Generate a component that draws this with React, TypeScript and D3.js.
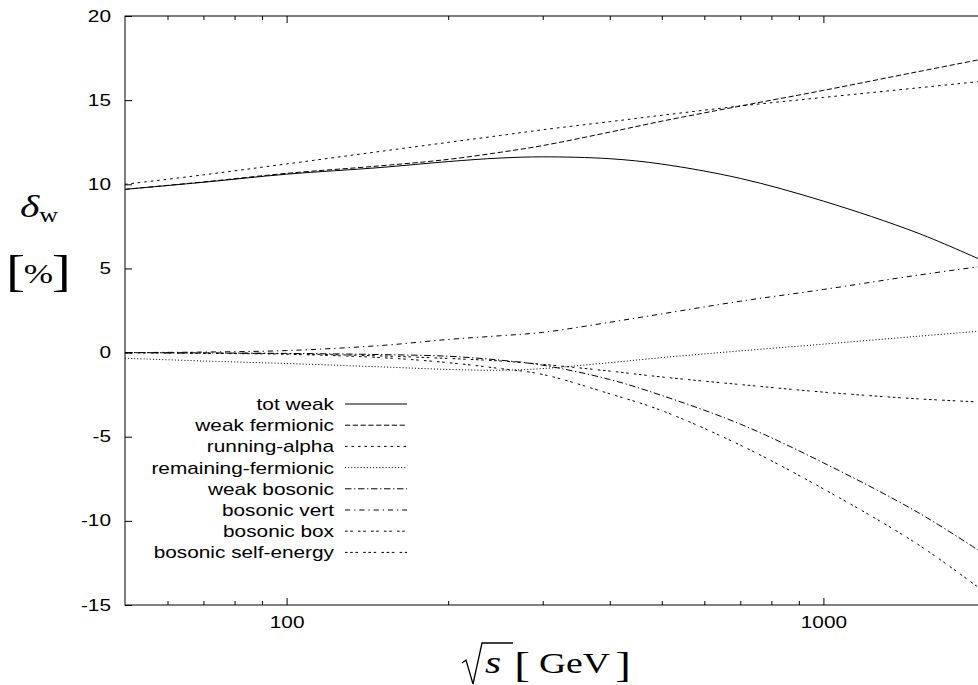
import * as React from "react";
import { useRef, useEffect } from "react";
import * as d3 from "d3";

// sqrt(s) in GeV
const energies = [50, 70, 100, 150, 200, 250, 300, 400, 500, 700, 1000, 1500, 2000];

// corrections in %
const totWeak = [9.7, 10.12, 10.6, 11.0, 11.35, 11.56, 11.63, 11.52, 11.2, 10.35, 9.0, 7.1, 5.4];
const weakFermionic = [9.7, 10.14, 10.65, 11.1, 11.48, 11.9, 12.3, 13.1, 13.75, 14.65, 15.58, 16.69, 17.47];
const runningAlpha = [10.0, 10.56, 11.21, 11.96, 12.49, 12.9, 13.24, 13.72, 14.1, 14.65, 15.16, 15.73, 16.14];
const remainingFermionic = [-0.34, -0.5, -0.65, -0.85, -1.0, -1.05, -0.95, -0.6, -0.3, 0.1, 0.5, 0.97, 1.3];
const weakBosonic = [0.0, -0.02, -0.05, -0.12, -0.22, -0.45, -0.75, -1.6, -2.55, -4.25, -6.55, -9.5, -12.0];
const bosonicVert = [0.0, 0.03, 0.12, 0.42, 0.78, 1.0, 1.2, 1.8, 2.3, 3.05, 3.75, 4.6, 5.15];
const bosonicBox = [-0.02, -0.05, -0.1, -0.3, -0.6, -0.95, -1.3, -2.45, -3.45, -5.5, -8.1, -11.4, -14.25];
const bosonicSelfEnergy = [0.0, -0.03, -0.07, -0.2, -0.35, -0.5, -0.7, -1.1, -1.45, -1.9, -2.35, -2.75, -2.95];

const seriesNames = [
  "tot weak",
  "weak fermionic",
  "running-alpha",
  "remaining-fermionic",
  "weak bosonic",
  "bosonic vert",
  "bosonic box",
  "bosonic self-energy",
];
const seriesValues = [
  totWeak,
  weakFermionic,
  runningAlpha,
  remainingFermionic,
  weakBosonic,
  bosonicVert,
  bosonicBox,
  bosonicSelfEnergy,
];

const yTicks = [-15, -10, -5, 0, 5, 10, 15, 20];
const xMajorTicks = [100, 1000];
const xMinorTicks = [60, 70, 80, 90, 200, 300, 400, 500, 600, 700, 800, 900];

// gnuplot-like dash patterns, in the same order as the series
const k = 1.3;
const dashes = [
  null,
  [4, 2],
  [2, 3],
  [0.8, 1.6],
  [5, 2, 1, 2],
  [4, 3, 1, 3],
  [2, 2, 2, 4],
  [2, 2, 2, 2, 2, 4],
];

// the original postscript was stretched sideways, text included
const STRETCH = 1.3;

export default function App() {
  const _ref = useRef<SVGSVGElement>(null);

  useEffect(() => {
    const svg = d3.select(_ref.current);
    svg.selectAll("*").remove();

    const left = 125;
    const right = 985;
    const top = 16;
    const bottom = 605;

    const x = d3.scaleLog().domain([50, 2000]).range([left, right]);
    const y = d3.scaleLinear().domain([-15, 20]).range([bottom, top]);

    const sans = "'Liberation Sans', Arial, Helvetica, sans-serif";
    const serif = "'Liberation Serif', 'Times New Roman', serif";

    // text drawn at (tx, ty) and stretched horizontally
    const label = (g: any, tx: number, ty: number, txt: string, size: number, family: string, anchor = "start", italic = false) =>
      g
        .append("text")
        .attr("transform", `translate(${tx},${ty}) scale(${STRETCH},1)`)
        .attr("text-anchor", anchor)
        .style("font-family", family)
        .style("font-size", `${size}px`)
        .style("font-style", italic ? "italic" : "normal")
        .attr("fill", "#000")
        .text(txt);

    // frame
    svg
      .append("rect")
      .attr("x", left)
      .attr("y", top)
      .attr("width", right - left)
      .attr("height", bottom - top)
      .attr("fill", "none")
      .attr("stroke", "#000")
      .attr("stroke-width", 1);

    // y axis (left, labelled) and mirror on right
    const yAxis = svg
      .append("g")
      .attr("transform", `translate(${left},0)`)
      .call(d3.axisLeft(y).tickValues(yTicks).tickSize(-7).tickPadding(14).tickFormat((d) => String(d)));
    yAxis.select(".domain").remove();
    yAxis
      .selectAll("text")
      .attr("x", -14 / STRETCH)
      .attr("transform", `scale(${STRETCH},1)`)
      .style("font-family", sans)
      .style("font-size", "16px")
      .attr("fill", "#000");

    const yRight = svg
      .append("g")
      .attr("transform", `translate(${right},0)`)
      .call(d3.axisRight(y).tickValues(yTicks).tickSize(-7).tickFormat(() => ""));
    yRight.select(".domain").remove();

    // x axis (bottom, labelled) and mirror on top
    const xAxis = svg
      .append("g")
      .attr("transform", `translate(0,${bottom})`)
      .call(d3.axisBottom(x).tickValues(xMajorTicks).tickSize(-7).tickPadding(12).tickFormat((d) => String(d)));
    xAxis.select(".domain").remove();
    xAxis
      .selectAll("text")
      .attr("transform", `scale(${STRETCH},1)`)
      .style("font-family", sans)
      .style("font-size", "16px")
      .attr("fill", "#000");

    const xMinor = svg
      .append("g")
      .attr("transform", `translate(0,${bottom})`)
      .call(d3.axisBottom(x).tickValues(xMinorTicks).tickSize(-4).tickFormat(() => ""));
    xMinor.select(".domain").remove();

    const xTop = svg
      .append("g")
      .attr("transform", `translate(0,${top})`)
      .call(d3.axisTop(x).tickValues(xMajorTicks).tickSize(-7).tickFormat(() => ""));
    xTop.select(".domain").remove();

    const xTopMinor = svg
      .append("g")
      .attr("transform", `translate(0,${top})`)
      .call(d3.axisTop(x).tickValues(xMinorTicks).tickSize(-4).tickFormat(() => ""));
    xTopMinor.select(".domain").remove();

    svg.selectAll(".tick line").attr("stroke", "#000");

    // curves
    const line = d3
      .line<number>()
      .x((_, i) => x(energies[i]))
      .y((d) => y(d))
      .curve(d3.curveCatmullRom.alpha(0.5));

    seriesValues.forEach((vals, i) => {
      const p = svg
        .append("path")
        .datum(vals)
        .attr("fill", "none")
        .attr("stroke", "#000")
        .attr("stroke-width", 1)
        .attr("d", line);
      if (dashes[i]) p.attr("stroke-dasharray", dashes[i]!.map((v) => v * k).join(","));
    });

    // legend
    const legendTextX = 334;
    const legendLineX0 = 345;
    const legendLineX1 = 407;
    const legendY0 = 404;
    const legendStep = 21.2;
    seriesNames.forEach((name, i) => {
      const ly = legendY0 + i * legendStep;
      label(svg, legendTextX, ly + 6, name, 16, sans, "end");
      const l = svg
        .append("line")
        .attr("x1", legendLineX0)
        .attr("x2", legendLineX1)
        .attr("y1", ly)
        .attr("y2", ly)
        .attr("stroke", "#000")
        .attr("stroke-width", 1);
      if (dashes[i]) l.attr("stroke-dasharray", dashes[i]!.map((v) => v * k).join(","));
    });

    // y label: delta_w and [%]
    const yl = svg.append("g");
    const dw = label(yl, 20, 217, "", 32, serif, "start", true);
    dw.append("tspan").text("δ");
    dw.append("tspan").attr("dy", 5).style("font-style", "normal").style("font-size", "20px").text("w");

    const pct = label(yl, 6, 286, "", 44, serif);
    pct.append("tspan").style("font-weight", "300").text("[");
    pct.append("tspan").attr("dx", -1).attr("dy", -3).style("font-size", "27px").text("%");
    pct.append("tspan").attr("dx", -1).attr("dy", 3).text("]");

    // x label: sqrt(s) [GeV]
    const xl = svg.append("g");
    xl.append("path")
      .attr("d", "M462,663 L466,660 L473,684 L482,643 L513,643")
      .attr("fill", "none")
      .attr("stroke", "#000")
      .attr("stroke-width", 1.3);
    const xt = label(xl, 485, 673, "", 32, serif);
    xt.append("tspan").style("font-style", "italic").text("s");
    xt.append("tspan").attr("dx", 10).attr("dy", 4).style("font-size", "36px").text("[");
    xt.append("tspan").attr("dx", 7).attr("dy", -4).style("font-size", "29px").text("GeV");
    xt.append("tspan").attr("dx", 4).attr("dy", 4).style("font-size", "36px").text("]");
  }, []);

  return (
    <svg
      ref={_ref}
      width={978}
      height={685}
      style={{ position: "absolute", left: 0, top: 0, background: "#fff" }}
    />
  );
}
